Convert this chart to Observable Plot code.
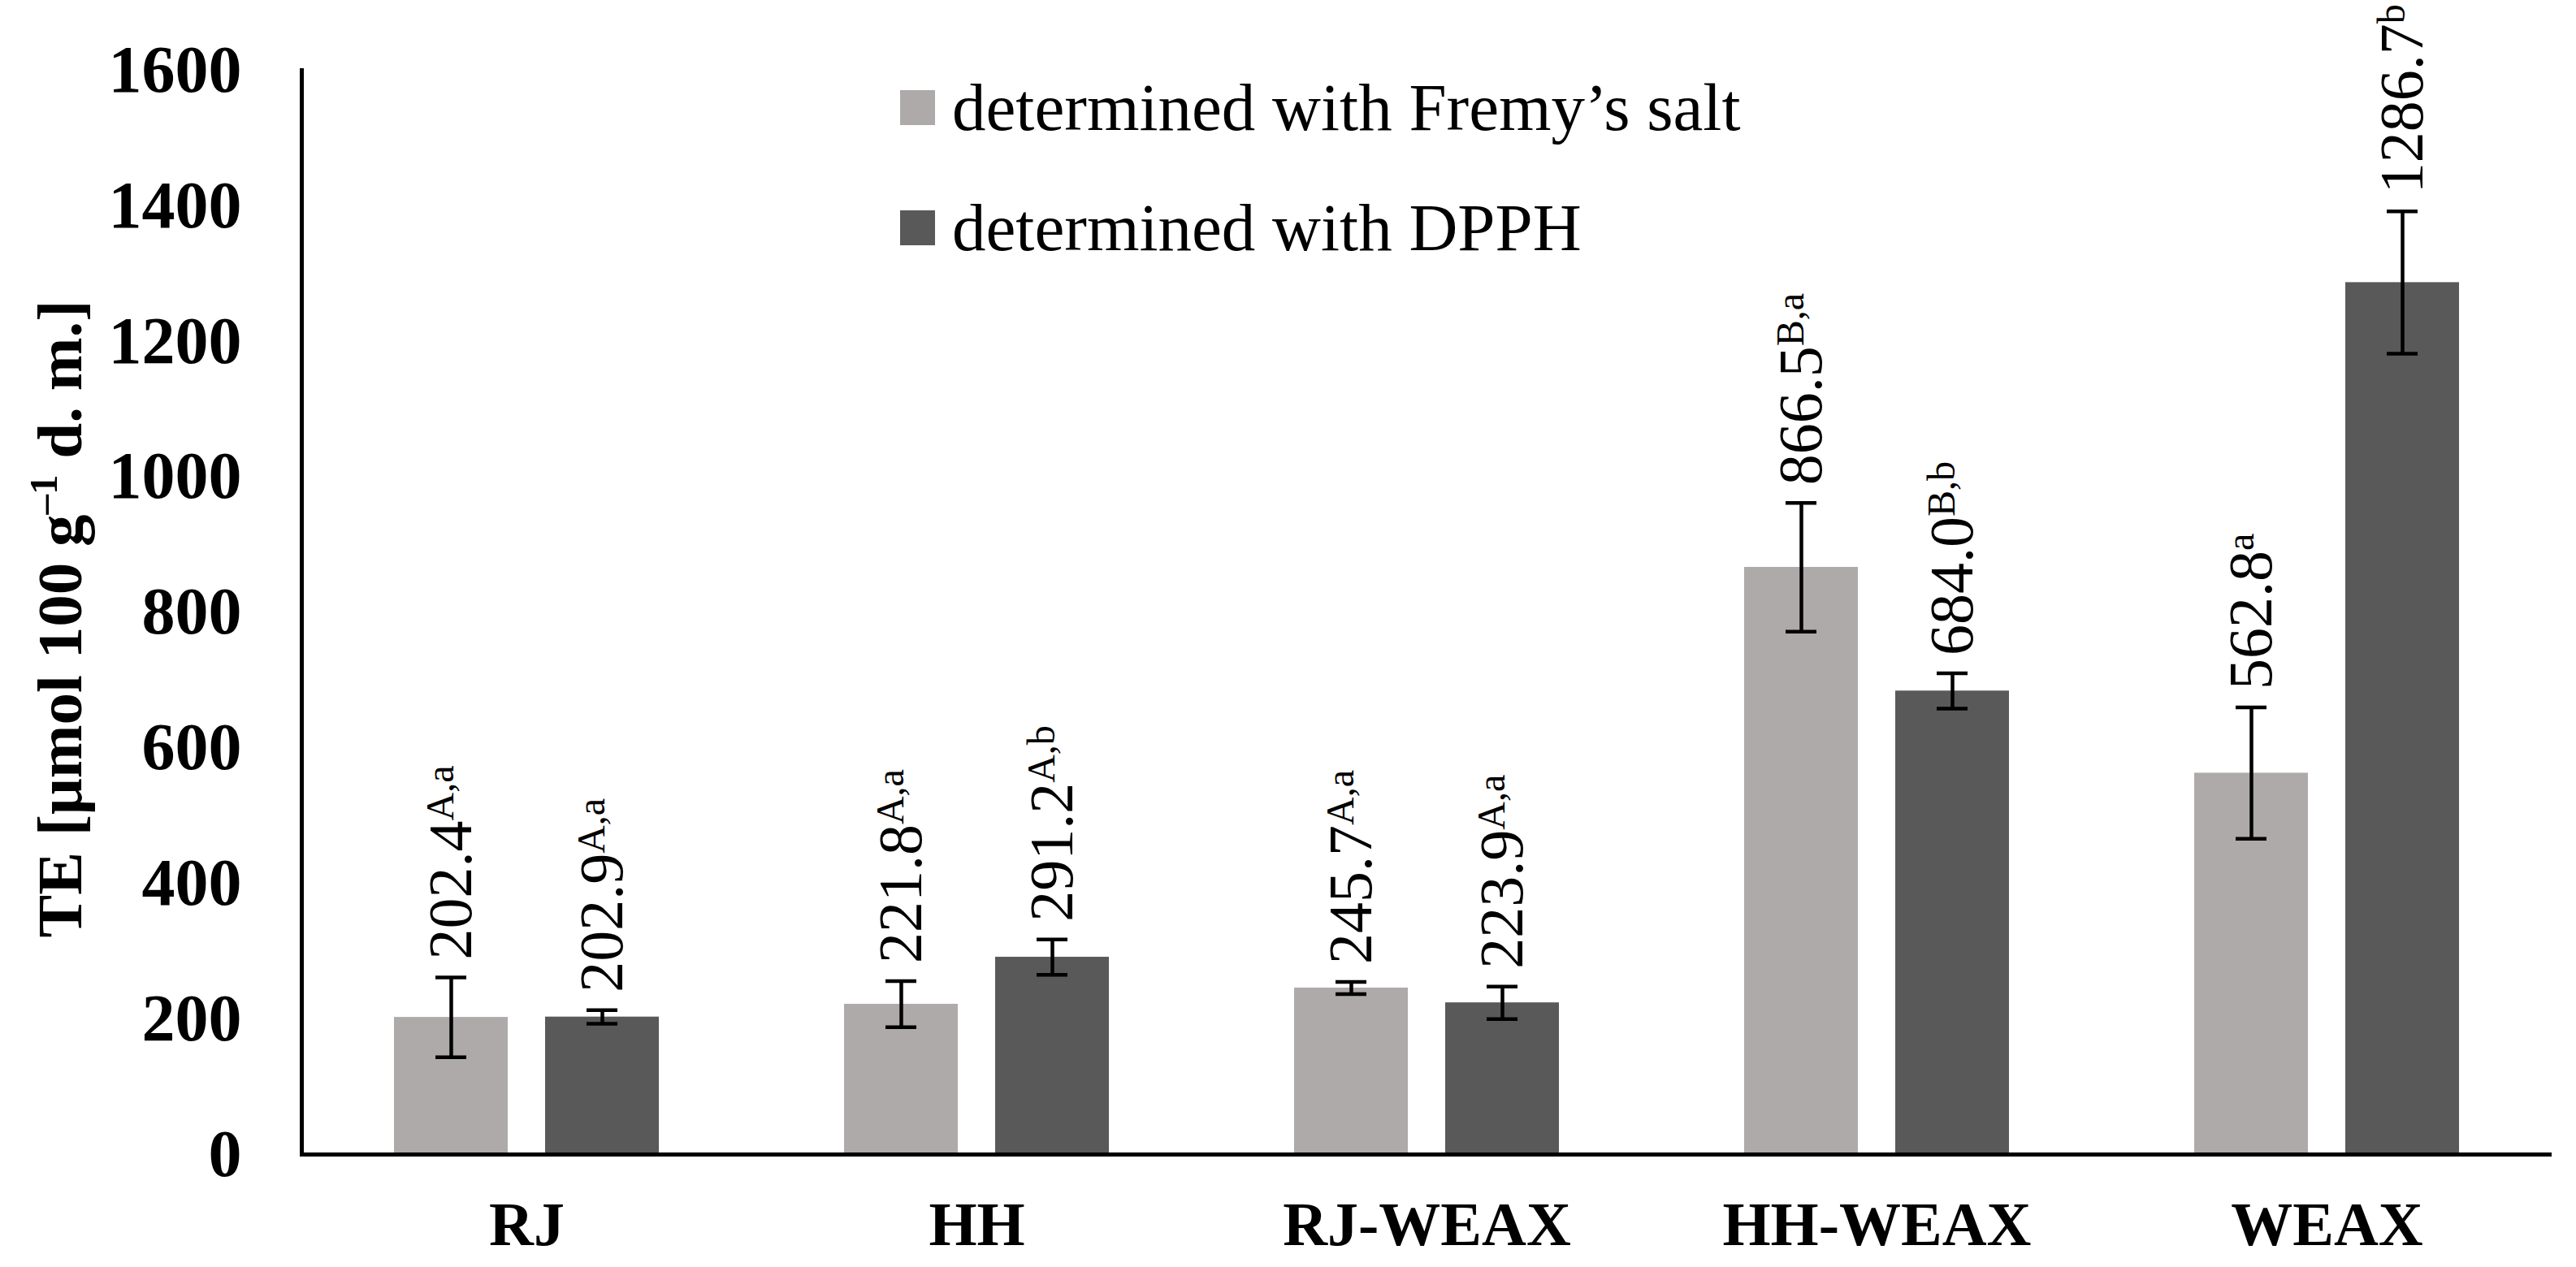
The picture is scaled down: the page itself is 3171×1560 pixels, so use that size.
<!DOCTYPE html>
<html>
<head>
<meta charset="utf-8">
<script src="https://cdn.jsdelivr.net/npm/d3@7"></script>
<script src="https://cdn.jsdelivr.net/npm/@observablehq/plot@0.6"></script>
<style>
  html, body { margin: 0; padding: 0; background: #fff; }
  #wrap { position: relative; width: 3171px; height: 1560px; font-family: "Liberation Serif", "Times New Roman", serif; }
  #wrap svg { position: absolute; left: 0; top: 0; }
  #wrap svg text { font-family: "Liberation Serif", "Times New Roman", serif; }
  g[aria-label="y-axis tick label"] text, g[aria-label="fx-axis tick label"] text { font-weight: bold; }
  .legend-row { position: absolute; left: 1108px; height: 92px; display: flex; align-items: center; font-size: 83px; line-height: 92px; white-space: nowrap; color: #000; }
  .legend-row .sw { width: 43px; height: 43px; margin-right: 21px; flex: none; }
  #ytitle { position: absolute; left: 0; top: 0; font-size: 79px; font-weight: bold; line-height: 79px; white-space: nowrap; color: #000;
            transform-origin: 0 0; }
  #ytitle sup { font-size: 0.62em; line-height: 0; vertical-align: 0; position: relative; top: -0.62em; }
</style>
</head>
<body>
<div id="wrap"></div>
<script>
// ---- data ----
const categories = ["RJ", "HH", "RJ-WEAX", "HH-WEAX", "WEAX"];
const series = ["determined with Fremy\u2019s salt", "determined with DPPH"];
const fremyMeans = [202.4, 221.8, 245.7, 866.5, 562.8];
const fremySD = [59, 34, 9, 95, 97];
const fremyLetters = ["A,a", "A,a", "A,a", "B,a", "a"];
const dpphMeans = [202.9, 291.2, 223.9, 684.0, 1286.7];
const dpphSD = [10, 26, 24, 26, 105];
const dpphLetters = ["A,a", "A,b", "A,a", "B,b", "b"];
const yTicks = [0, 200, 400, 600, 800, 1000, 1200, 1400, 1600];
const seriesColors = ["#AEAAAA", "#595959"];
const yTitleMain = "TE [\u03bcmol 100 g";
const yTitleSup = "\u20131";
const yTitleEnd = " d. m.]";

// ---- table ----
const rows = [];
categories.forEach((c, i) => {
  rows.push({cat: c, series: series[0], mean: fremyMeans[i], sd: fremySD[i], sup: fremyLetters[i]});
  rows.push({cat: c, series: series[1], mean: dpphMeans[i], sd: dpphSD[i], sup: dpphLetters[i]});
});

const font = "Liberation Serif, Times New Roman, serif";

const plot = Plot.plot({
  width: 3171,
  height: 1560,
  marginLeft: 371,
  marginRight: 30,
  marginTop: 86,
  marginBottom: 139,
  style: {fontFamily: font, background: "white", color: "black", overflow: "visible"},
  fx: {domain: categories, padding: 0, label: null},
  x: {domain: series, paddingInner: 0.2473, paddingOuter: 0.6128, axis: null},
  y: {domain: [0, 1600], label: null},
  color: {domain: series, range: seriesColors},
  marks: [
    Plot.barY(rows, {fx: "cat", x: "series", y: "mean", fill: "series"}),
    Plot.ruleX(rows, {fx: "cat", x: "series", y1: d => d.mean - d.sd, y2: d => d.mean + d.sd, stroke: "black", strokeWidth: 4.5}),
    Plot.tickY(rows, {fx: "cat", x: "series", y: d => d.mean - d.sd, stroke: "black", strokeWidth: 4.5, insetLeft: 51, insetRight: 51}),
    Plot.tickY(rows, {fx: "cat", x: "series", y: d => d.mean + d.sd, stroke: "black", strokeWidth: 4.5, insetLeft: 51, insetRight: 51}),
    Plot.text(rows, {
      fx: "cat", x: "series", y: d => d.mean + d.sd,
      text: d => d.mean.toFixed(1) + "|" + d.sup,
      rotate: -90, textAnchor: "start", dy: -22,
      fontSize: 76, fontFamily: font, fill: "black", className: "vlabel"
    }),
    Plot.ruleY([0], {stroke: "black", strokeWidth: 5}),
    Plot.frame({anchor: "left", facetAnchor: "left", stroke: "black", strokeWidth: 5}),
    Plot.axisY({ticks: yTicks, tickFormat: d => String(d), tickSize: 0, tickPadding: 74, fontSize: 82, fontWeight: "bold", label: null}),
    Plot.axisFx({anchor: "bottom", tickSize: 0, tickPadding: 58, fontSize: 76, fontWeight: "bold", label: null})
  ]
});

const wrap = document.getElementById("wrap");
wrap.appendChild(plot);

// superscripts for value labels
d3.select(plot).selectAll("g.vlabel text").each(function() {
  const t = d3.select(this);
  const parts = t.text().split("|");
  t.text(null);
  t.append("tspan").text(parts[0]);
  t.append("tspan").attr("font-size", 48).attr("dy", -22).text(parts[1]);
});

// legend
series.forEach((s, i) => {
  const row = document.createElement("div");
  row.className = "legend-row";
  row.style.top = (86 + i * 148) + "px";
  const sw = document.createElement("span");
  sw.className = "sw";
  sw.style.background = seriesColors[i];
  const tx = document.createElement("span");
  tx.textContent = s;
  row.appendChild(sw);
  row.appendChild(tx);
  wrap.appendChild(row);
});

// y-axis title
const yt = document.createElement("div");
yt.id = "ytitle";
yt.innerHTML = yTitleMain + "<sup>" + yTitleSup + "</sup>" + yTitleEnd;
wrap.appendChild(yt);
const w = yt.offsetWidth, h = yt.offsetHeight;
const cy = 762, cx = 73;
yt.style.transform = `translate(${cx - h / 2}px, ${cy + w / 2}px) rotate(-90deg)`;
</script>
</body>
</html>
